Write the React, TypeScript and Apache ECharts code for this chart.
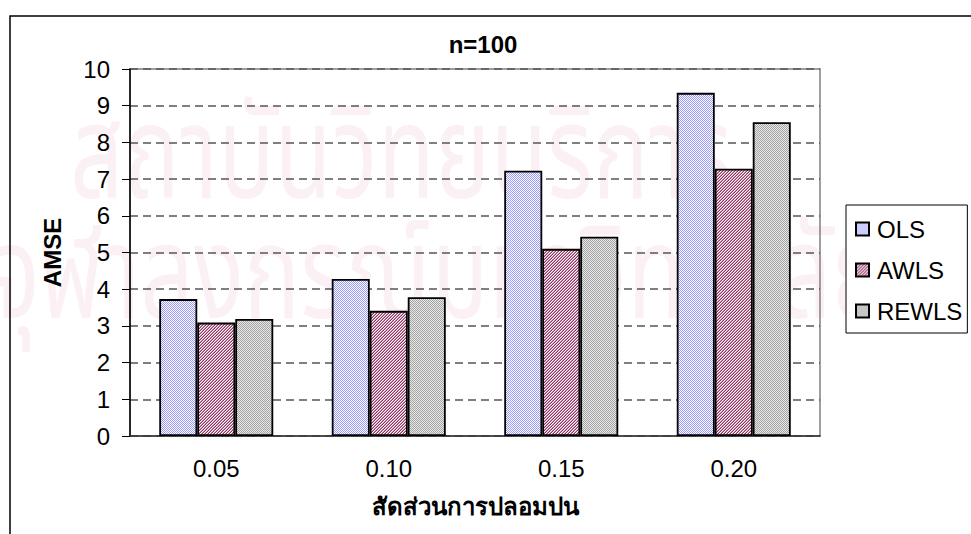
import React, { useEffect, useRef } from "react";
import * as echarts from "echarts";

// Contamination proportions on the x axis
const categories = ["0.05", "0.10", "0.15", "0.20"];
// AMSE of each estimator per contamination level
const olsValues = [3.73, 4.28, 7.23, 9.35];
const awlsValues = [3.09, 3.41, 5.1, 7.28];
const rewlsValues = [3.19, 3.78, 5.43, 8.55];
const seriesNames = ["OLS", "AWLS", "REWLS"];
const yTicks = [0, 10, 1]; // min, max, step

const FONT = "'Liberation Sans', Arial, sans-serif";
const MARK_FONT = "130px 'Noto Sans Thai', 'Noto Sans', sans-serif";

type Painter = (ctx: CanvasRenderingContext2D, size: number) => void;

function makePattern(size: number, paint: Painter) {
  const c = document.createElement("canvas");
  c.width = size;
  c.height = size;
  const ctx = c.getContext("2d") as CanvasRenderingContext2D;
  ctx.fillStyle = "#ffffff";
  ctx.fillRect(0, 0, size, size);
  paint(ctx, size);
  return {
    image: c.toDataURL(),
    repeat: "repeat",
    imageWidth: size,
    imageHeight: size,
  };
}

// fine lavender checker
const olsFill = () =>
  makePattern(2, (ctx) => {
    ctx.fillStyle = "#9999ff";
    ctx.fillRect(0, 0, 1, 1);
    ctx.fillRect(1, 1, 1, 1);
  });

// maroon "/" diagonal hatch
const awlsFill = () =>
  makePattern(3, (ctx, s) => {
    for (let y = 0; y < s; y++) {
      for (let x = 0; x < s; x++) {
        const k = (x + y) % 3;
        if (k === 2) {
          ctx.fillStyle = "#993366";
          ctx.fillRect(x, y, 1, 1);
        } else if (k === 1) {
          ctx.fillStyle = "#c890aa";
          ctx.fillRect(x, y, 1, 1);
        }
      }
    }
  });

// grey dotted checker
const rewlsFill = () =>
  makePattern(2, (ctx) => {
    ctx.fillStyle = "#e8e8e8";
    ctx.fillRect(0, 0, 2, 2);
    ctx.fillStyle = "#a4a4a4";
    ctx.fillRect(0, 0, 1, 1);
    ctx.fillRect(1, 1, 1, 1);
  });

export default function App() {
  const ref = useRef<HTMLDivElement>(null);

  useEffect(() => {
    document.body.style.margin = "0";
    if (!ref.current) return;
    const chart = echarts.init(ref.current, undefined, { renderer: "svg" });

    const fills = [olsFill(), awlsFill(), rewlsFill()];
    const values = [olsValues, awlsValues, rewlsValues];

    chart.setOption({
      animation: false,
      backgroundColor: "#ffffff",
      textStyle: { fontFamily: FONT },
      graphic: [
        // faint background lettering
        {
          type: "text",
          z: -10,
          silent: true,
          x: 70,
          y: 223,
          scaleX: 0.72,
          style: {
            text: "สถาบันวิทยบริการ",
            font: MARK_FONT,
            fill: "#fbf1f4",
            textVerticalAlign: "bottom",
          },
        },
        {
          type: "text",
          z: -10,
          silent: true,
          x: -10,
          y: 343,
          scaleX: 0.72,
          style: {
            text: "จุฬาลงกรณ์มหาวิทยาลัย",
            font: MARK_FONT,
            fill: "#fbf1f4",
            textVerticalAlign: "bottom",
          },
        },
        // chart frame
        {
          type: "rect",
          z: 5,
          silent: true,
          shape: { x: 10, y: 16, width: 1000, height: 600 },
          style: { fill: "none", stroke: "#000000", lineWidth: 1.5 },
        },
        {
          type: "text",
          z: 5,
          x: 483,
          y: 44,
          style: {
            text: "n=100",
            font: `bold 24px ${FONT}`,
            fill: "#000000",
            textAlign: "center",
            textVerticalAlign: "middle",
          },
        },
      ],
      grid: {
        left: 130,
        right: 151,
        top: 69,
        bottom: 98,
        show: true,
        borderColor: "#808080",
        borderWidth: 1.5,
        backgroundColor: "transparent",
      },
      legend: {
        orient: "vertical",
        left: 846,
        top: 205,
        data: seriesNames,
        icon: "rect",
        itemWidth: 13,
        itemHeight: 13,
        itemGap: 17,
        padding: [12, 5, 10, 9],
        backgroundColor: "#ffffff",
        borderColor: "#000000",
        borderWidth: 1,
        textStyle: {
          fontFamily: FONT,
          fontSize: 24,
          color: "#000000",
          padding: [0, 0, 0, 3],
        },
      },
      xAxis: {
        type: "category",
        data: categories,
        name: "สัดส่วนการปลอมปน",
        nameLocation: "middle",
        nameGap: 58,
        nameTextStyle: {
          fontSize: 24,
          fontWeight: "bold",
          color: "#000000",
          fontFamily: FONT,
        },
        axisLine: { lineStyle: { color: "#333333", width: 1.5 } },
        axisTick: { length: 8, lineStyle: { color: "#333333", width: 1 } },
        axisLabel: {
          fontSize: 24,
          color: "#000000",
          margin: 20,
          fontFamily: FONT,
        },
      },
      yAxis: {
        type: "value",
        min: yTicks[0],
        max: yTicks[1],
        interval: yTicks[2],
        name: "AMSE",
        nameLocation: "middle",
        nameGap: 66,
        nameTextStyle: {
          fontSize: 24,
          fontWeight: "bold",
          color: "#000000",
          fontFamily: FONT,
        },
        axisLine: { show: true, lineStyle: { color: "#000000", width: 1.5 } },
        axisTick: { show: true, length: 8, lineStyle: { color: "#000000" } },
        axisLabel: {
          fontSize: 24,
          color: "#000000",
          margin: 20,
          fontFamily: FONT,
        },
        splitLine: {
          show: true,
          lineStyle: { color: "#555555", width: 1.5, type: [8, 5] },
        },
      },
      series: seriesNames.map((name, i) => ({
        name,
        type: "bar",
        data: values[i],
        barWidth: 38,
        barGap: "0%",
        itemStyle: {
          color: fills[i],
          borderColor: "#000000",
          borderWidth: 1.8,
        },
      })),
    });

    return () => chart.dispose();
  }, []);

  return <div ref={ref} style={{ width: 971, height: 534 }} />;
}
